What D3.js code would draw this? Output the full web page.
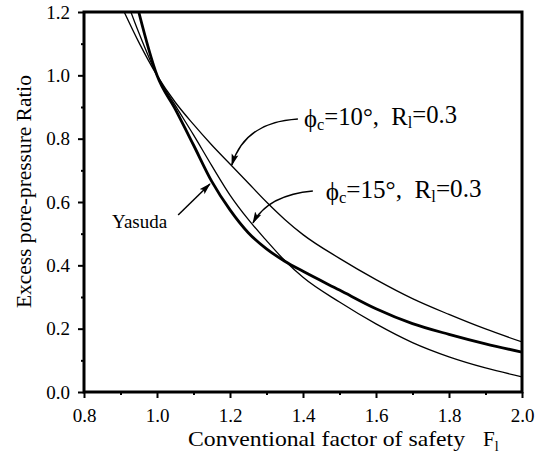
<!DOCTYPE html>
<html>
<head>
<meta charset="utf-8">
<script src="https://cdn.jsdelivr.net/npm/d3@7"></script>
<style>
  html, body { margin: 0; padding: 0; background: #fff; }
  svg { display: block; }
</style>
</head>
<body>
<svg id="chart" width="548" height="459"></svg>
<script>
// ---- data ----
const factorOfSafety = [0.90, 0.95, 1.00, 1.05, 1.10, 1.15, 1.20, 1.25, 1.30, 1.35, 1.40, 1.50, 1.60, 1.70, 1.80, 1.90, 2.00];
const ratioPhi10  = [1.225, 1.105, 1.00, 0.915, 0.845, 0.780, 0.720, 0.660, 0.600, 0.545, 0.497, 0.422, 0.355, 0.295, 0.245, 0.199, 0.158];
const ratioPhi15  = [1.29, 1.135, 1.00, 0.905, 0.812, 0.715, 0.622, 0.545, 0.478, 0.415, 0.362, 0.284, 0.215, 0.156, 0.111, 0.076, 0.048];
const ratioYasuda = [1.45, 1.20, 1.00, 0.893, 0.780, 0.665, 0.575, 0.503, 0.452, 0.413, 0.381, 0.322, 0.263, 0.216, 0.182, 0.152, 0.126];
const xTicks = [0.8, 1.0, 1.2, 1.4, 1.6, 1.8, 2.0];
const xMinorTicks = [0.9, 1.1, 1.3, 1.5, 1.7, 1.9];
const yTicks = [0.0, 0.2, 0.4, 0.6, 0.8, 1.0, 1.2];
const yMinorTicks = [0.1, 0.3, 0.5, 0.7, 0.9, 1.1];
const xTitle = "Conventional factor of safety";
const xTitleSymbol = "F";
const xTitleSub = "l";
const yTitle = "Excess pore-pressure Ratio";
const seriesLabelYasuda = "Yasuda";
// annotation anchor points in data units: [start, control, tip]
const arrowPhi10 = [[1.386, 0.862], [1.241, 0.853], [1.205, 0.717]];
const arrowPhi15 = [[1.427, 0.635], [1.304, 0.622], [1.263, 0.534]];
const arrowYasuda = [[1.058, 0.559], [1.145, 0.657]];
const labelPhi10 = [1.403, 0.838];
const labelPhi15 = [1.462, 0.606];
const labelYasuda = [0.877, 0.518];

// ---- layout ----
const FONT = "'Liberation Serif', 'Times New Roman', 'DejaVu Serif', 'Noto Serif', serif";
const svg = d3.select("#chart").style("font-family", FONT);
const L = 84, R = 522, T = 12, B = 392;
const x = d3.scaleLinear().domain([0.8, 2.0]).range([L, R]);
const y = d3.scaleLinear().domain([0.0, 1.2]).range([B, T]);

const defs = svg.append("defs");
defs.append("clipPath").attr("id", "clip")
  .append("rect").attr("x", L).attr("y", T).attr("width", R - L).attr("height", B - T);
defs.append("marker")
  .attr("id", "ah").attr("viewBox", "0 0 12 8").attr("refX", 11).attr("refY", 4)
  .attr("markerWidth", 12).attr("markerHeight", 8).attr("markerUnits", "userSpaceOnUse")
  .attr("orient", "auto")
  .append("path").attr("d", "M0,0.5 L12,4 L0,7.5 L2.5,4 z").attr("fill", "#000");

// axes
const fmt = d3.format(".1f");
const gx = svg.append("g").attr("transform", `translate(0,${B})`)
  .call(d3.axisBottom(x).tickValues(xTicks).tickFormat(fmt).tickSize(6).tickSizeOuter(0));
const gxm = svg.append("g").attr("transform", `translate(0,${B})`)
  .call(d3.axisBottom(x).tickValues(xMinorTicks).tickFormat("").tickSize(3).tickSizeOuter(0));
const gy = svg.append("g").attr("transform", `translate(${L},0)`)
  .call(d3.axisLeft(y).tickValues(yTicks).tickFormat(fmt).tickSize(6).tickSizeOuter(0).tickPadding(8));
const gym = svg.append("g").attr("transform", `translate(${L},0)`)
  .call(d3.axisLeft(y).tickValues(yMinorTicks).tickFormat("").tickSize(3).tickSizeOuter(0));
[gx, gxm, gy, gym].forEach(g => {
  g.attr("font-family", null).style("font-family", FONT);
  g.select(".domain").remove();
  g.selectAll(".tick line").attr("stroke", "#000").attr("stroke-width", 2);
  g.selectAll(".tick text").attr("font-size", 19).attr("fill", "#000").style("font-family", FONT);
});
gx.selectAll(".tick text").attr("y", 30).attr("dy", 0);

// curves
const line = d3.line().x(d => x(d[0])).y(d => y(d[1])).curve(d3.curveMonotoneX);
const plot = svg.append("g").attr("clip-path", "url(#clip)");
const series = [
  { v: ratioPhi10, w: 1.3 },
  { v: ratioPhi15, w: 1.3 },
  { v: ratioYasuda, w: 2.8 }
];
series.forEach(s => {
  plot.append("path")
    .datum(factorOfSafety.map((f, i) => [f, s.v[i]]))
    .attr("d", line).attr("fill", "none").attr("stroke", "#000")
    .attr("stroke-width", s.w).attr("stroke-linejoin", "round");
});

// frame
svg.append("rect").attr("x", L).attr("y", T).attr("width", R - L).attr("height", B - T)
  .attr("fill", "none").attr("stroke", "#000").attr("stroke-width", 3);

// annotation arrows
function curvedArrow(p) {
  const path = d3.path();
  path.moveTo(x(p[0][0]), y(p[0][1]));
  path.quadraticCurveTo(x(p[1][0]), y(p[1][1]), x(p[2][0]), y(p[2][1]));
  return path.toString();
}
[arrowPhi10, arrowPhi15].forEach(p => {
  svg.append("path").attr("d", curvedArrow(p)).attr("fill", "none")
    .attr("stroke", "#000").attr("stroke-width", 1.5).attr("marker-end", "url(#ah)");
});
svg.append("line")
  .attr("x1", x(arrowYasuda[0][0])).attr("y1", y(arrowYasuda[0][1]))
  .attr("x2", x(arrowYasuda[1][0])).attr("y2", y(arrowYasuda[1][1]))
  .attr("stroke", "#000").attr("stroke-width", 1.5).attr("marker-end", "url(#ah)");

// labels
function fitWidth(sel, target) {
  const w = sel.node().getBBox().width;
  if (w > 0) sel.attr("font-size", +sel.attr("font-size") * target / w);
}
function phiLabel(pos, deg, width) {
  const t = svg.append("text").attr("x", x(pos[0])).attr("y", y(pos[1])).attr("font-size", 21);
  t.append("tspan").text("\u03d5");
  t.append("tspan").attr("font-size", "0.66em").attr("dy", "0.2em").text("c");
  t.append("tspan").attr("dy", "-0.2em").text("=" + deg + "\u00b0,\u00a0\u00a0R");
  t.append("tspan").attr("font-size", "0.66em").attr("dy", "0.2em").text("l");
  t.append("tspan").attr("dy", "-0.2em").text("=0.3");
  fitWidth(t, width);
}
phiLabel(labelPhi10, 10, 153);
phiLabel(labelPhi15, 15, 156);
svg.append("text").attr("x", x(labelYasuda[0])).attr("y", y(labelYasuda[1]))
  .attr("font-size", 19).attr("textLength", 55).attr("lengthAdjust", "spacingAndGlyphs")
  .text(seriesLabelYasuda);

// axis titles
svg.append("text").attr("x", 188).attr("y", 446).attr("font-size", 21)
  .attr("textLength", 277).attr("lengthAdjust", "spacingAndGlyphs").text(xTitle);
const ft = svg.append("text").attr("x", 483).attr("y", 446).attr("font-size", 21);
ft.append("tspan").text(xTitleSymbol);
ft.append("tspan").attr("font-size", 14).attr("dy", 5).text(xTitleSub);
svg.append("text").attr("transform", "translate(31,191.5) rotate(-90)")
  .attr("text-anchor", "middle").attr("font-size", 20)
  .attr("textLength", 233).attr("lengthAdjust", "spacingAndGlyphs").text(yTitle);
</script>
</body>
</html>
